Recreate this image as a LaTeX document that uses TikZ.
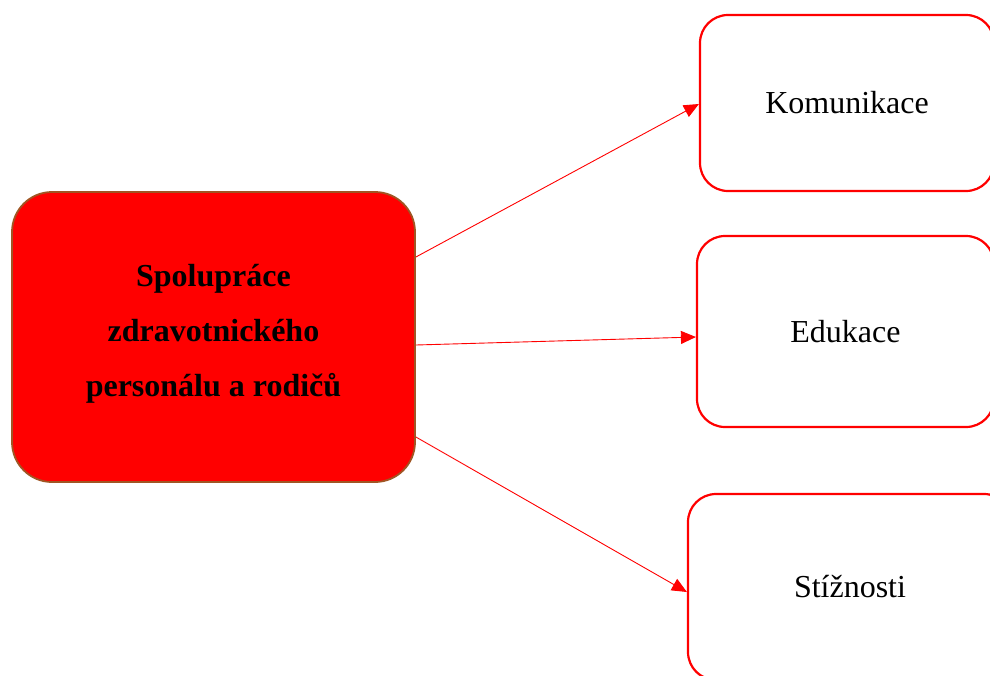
\documentclass[tikz,border=0pt]{standalone}
\usepackage{fontspec}
\setmainfont{Liberation Serif}
\usetikzlibrary{arrows.meta}
\definecolor{mainred}{RGB}{255,0,0}
\definecolor{mainborder}{RGB}{160,85,35}
\begin{document}
\begin{tikzpicture}[x=1pt,y=-1pt,
  mainbox/.style={draw=mainborder,line width=1.8pt,fill=mainred,rounded corners=40pt,
    minimum width=403pt,minimum height=290pt,align=center,inner sep=0pt,
    font=\fontsize{32}{55}\selectfont\bfseries},
  subbox/.style={draw=red,line width=2.2pt,fill=white,rounded corners=28pt,inner sep=0pt,
    font=\fontsize{32}{38}\selectfont},
  conn/.style={draw=red,line width=0.9pt,-{Triangle[length=15pt,width=13pt]}}]
\clip (0,0) rectangle (990,675);
\fill[white] (0,0) rectangle (990,675);
\node[mainbox] (main) at (213.5,337) {};
\node[font=\fontsize{32}{55}\selectfont\bfseries,align=center,inner sep=0pt] (maintext) at (213.5,334) {Spolupráce\\zdravotnického\\personálu a rodičů};
\node[subbox,minimum width=294pt,minimum height=176pt] (kom) at (847,103) {Komunikace};
\node[subbox,minimum width=297pt,minimum height=191pt] (edu) at (845.5,331.5) {Edukace};
\node[subbox,minimum width=324pt,minimum height=186pt] (sti) at (850,587) {Stížnosti};
\draw[conn] ([yshift=80pt]main.east) -- ([yshift=-1pt]kom.west);
\draw[conn] ([yshift=-8pt]main.east) -- ([yshift=-5.5pt]edu.west);
\draw[conn] ([yshift=-100pt]main.east) -- ([yshift=-5pt]sti.west);
\end{tikzpicture}
\end{document}
